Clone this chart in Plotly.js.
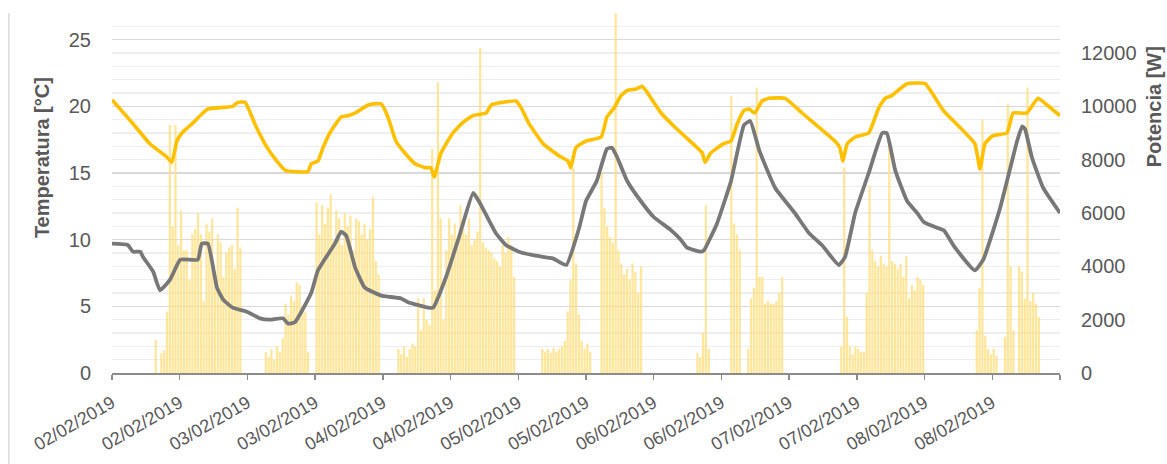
<!DOCTYPE html>
<html>
<head>
<meta charset="utf-8">
<script src="https://cdn.plot.ly/plotly-3.0.1.min.js"></script>
<style>html,body{margin:0;padding:0;background:#fff;}#chart{width:1167px;height:464px;}</style>
</head>
<body>
<div id="chart"></div>
<script>
// ---- Data ----
// Hours since 02/02/2019 00:00 and interior temperature [°C]
const interiorHours = [0,3.7,6.7,9.7,10.6,11.5,12.4,14.2,16.1,17.0,21.4,22.3,23.6,25.4,27.5,29.2,30.7,34.7,35.3,36.5,37.4,38.6,40.6,41.8,43.1,45.4,46.6,47.7,48.9,50.3,51.9,53.7,55.5,56.5,57.1,58.3,60.4,62.2,64.0,66.3,67.2,69.3,71.6,72.5,73.9,76.4,79.2,80.8,81.3,82.2,84.0,86.7,87.7,89.0,90.2,91.3,92.9,93.9,94.6,97.3,100.1,103.7,104.6,105.1,106.1,108.4,109.7,110.8,112.0,112.9,113.9,115.2,116.4,119.3,122.3,128.1,129.0,129.5,130.3,131.7,134.1,135.0,135.9,137.0,138.2,139.6,140.9,144.1,147.3,152.9,153.8,154.7,156.1,158.6,159.7,162.1,164.1,165.7,168];
const interiorTemp = [20.5,18.7,17.2,16.2,15.8,17.4,18.0,18.7,19.5,19.8,20.0,20.3,20.3,18.6,16.9,15.9,15.2,15.1,15.7,15.9,16.9,18.0,19.2,19.3,19.5,20.1,20.2,20.2,19.2,17.4,16.5,15.7,15.4,15.4,14.7,16.5,18.0,18.8,19.3,19.5,20.1,20.3,20.4,19.9,18.7,17.2,16.3,15.9,15.4,16.9,17.4,17.7,19.2,19.9,20.8,21.2,21.3,21.5,21.2,19.5,18.3,16.9,16.5,15.8,16.5,17.2,17.4,18.7,19.7,19.8,19.5,20.4,20.6,20.6,19.5,17.4,16.9,15.9,17.2,17.7,18.0,18.9,19.9,20.6,20.8,21.3,21.7,21.7,19.7,17.2,15.3,17.2,17.8,18.0,19.5,19.5,20.6,20.1,19.3];

// Hours since 02/02/2019 00:00 and exterior temperature [°C]
const exteriorHours = [0,2.8,3.7,5.0,5.5,7.3,8.5,10.3,12.1,15.2,15.9,17.0,18.6,19.7,21.4,23.9,26.2,28.0,30.3,31.2,32.4,35.3,36.5,39.5,40.6,41.5,43.1,44.8,47.7,49.4,51.2,52.5,56.0,56.9,59.2,61.5,64.0,65.0,68.0,69.8,72.1,75.1,78.1,80.5,82.8,84.0,85.9,87.7,88.6,89.5,91.3,93.7,96.0,99.1,100.8,101.9,104.4,104.9,107.2,109.7,112.0,113.1,114.7,117.5,121.0,123.5,125.8,128.8,129.9,131.7,134.1,136.5,137.3,138.8,140.9,142.7,143.9,146.2,147.4,149.4,152.9,154.4,157.4,160.4,161.3,161.8,163.0,165.0,168];
const exteriorTemp = [9.7,9.6,9.1,9.1,8.7,7.6,6.2,7.0,8.5,8.5,9.7,9.7,6.4,5.5,4.9,4.6,4.1,4.0,4.1,3.7,3.8,6.0,7.7,9.7,10.6,10.3,7.9,6.4,5.8,5.7,5.6,5.3,4.9,4.9,7.2,10.2,13.5,12.9,10.5,9.6,9.1,8.8,8.6,8.1,10.9,12.9,14.4,16.8,16.9,16.2,14.4,12.9,11.7,10.7,10.0,9.4,9.1,9.2,11.2,14.4,18.6,18.9,16.7,13.9,12.0,10.5,9.6,8.1,8.7,12.0,15.0,18.0,18.0,15.2,12.9,12.0,11.3,10.9,10.7,9.4,7.7,8.5,12.4,17.4,18.5,18.3,16.2,13.9,12.0];

// Heating power [W], one value per half hour, one array per day
const powerDay1 = [0,0,0,0,0,0,0,0,0,0, 0,0,0,0,0,1240,0,750,860,2300, 9300,5500,9300,4800,6100,4600,4600,3500,5200,5400, 6000,5200,2700,5600,5300,5800,3800,5200,4900,3600, 4500,4700,4800,3900,6200,4700,0,0];
const powerDay2 = [0,0,0,0,0,0,800,600,900,500, 1000,800,1300,2600,2200,2900,2700,3400,3300,2500, 2300,800,0,0,6400,5200,6300,5600,6200,6700, 5000,6100,5800,4800,6000,5500,5900,4600,5800,5700, 5200,5600,5000,5400,6600,4200,3700,0];
const powerDay3 = [0,0,0,0,0,900,700,1000,600,900, 1100,1000,2800,1600,2800,2000,1800,8400,3100,10900, 5800,2000,4600,5800,5200,5600,5000,6300,5400,5200, 5800,4800,5000,5300,12200,4900,4700,4600,4500,4300, 4200,4000,4800,4500,5100,4800,3600,0];
const powerDay4 = [0,0,0,0,0,0,0,0,900,800, 900,750,950,800,900,1000,1200,2300,3500,7700, 4100,2200,1200,900,1100,800,0,0,0,7500, 6200,5500,5100,4900,13500,4600,4100,3700,3900,3500, 4100,3800,3000,4000,0,0,0,0];
const powerDay5 = [0,0,0,0,0,0,0,0,0,0, 0,0,0,0,0,750,600,1500,6300,900, 0,0,0,0,0,0,0,10400,5600,5200, 4600,0,0,900,2800,3200,10700,3600,3600,2600, 2700,2600,2600,2700,3000,3600,0,0];
const powerDay6 = [0,0,0,0,0,0,0,0,0,0, 0,0,0,0,0,0,0,0,1000,7700, 2100,1000,700,1000,900,800,800,3000,7000,4600, 4200,4000,4400,4100,4000,8600,4200,4100,3900,4100, 3600,4400,2800,3300,3100,3600,3500,3300];
const powerDay7 = [0,0,0,0,0,0,0,0,0,0, 0,0,0,0,0,0,0,0,1600,3200, 9500,1400,900,700,900,650,0,0,1350,10100, 4000,1600,0,4000,3800,2800,10700,2700,3000,2600, 2100,0,0,0,0,0,0,0];

// Axis ticks
const tickHours = [0,12,24,36,48,60,72,84,96,108,120,132,144,156,168];
const tickLabels = ["02/02/2019","02/02/2019","03/02/2019","03/02/2019","04/02/2019","04/02/2019","05/02/2019","05/02/2019","06/02/2019","06/02/2019","07/02/2019","07/02/2019","08/02/2019","08/02/2019",""];
const tempTicks = [0,5,10,15,20,25];
const powerTicks = [0,2000,4000,6000,8000,10000,12000];
const powerTickLabels = ["0","2000","4000","6000","8000","10000","12000"];

// ---- Helpers ----
const START = Date.UTC(2019, 1, 2, 0, 0, 0);
function stamp(h) {
  return new Date(START + h * 3600000).toISOString().slice(0, 19).replace('T', ' ');
}

const powerAll = [].concat(powerDay1, powerDay2, powerDay3, powerDay4, powerDay5, powerDay6, powerDay7);
const powerX = powerAll.map((_, i) => stamp(i * 0.5 + 0.25));

const FONT = 'Liberation Sans, Arial, sans-serif';
const TXT = '#595959';
const TICKSIZE = 20;

const traces = [
  {
    type: 'bar', name: 'Potencia', x: powerX, y: powerAll, yaxis: 'y',
    marker: {color: 'rgba(255,222,120,0.75)', line: {width: 0}},
    hoverinfo: 'x+y'
  },
  {
    type: 'scatter', mode: 'lines', name: 'Temperatura interior',
    x: interiorHours.map(stamp), y: interiorTemp, yaxis: 'y2',
    line: {color: '#FFC000', width: 3.6, shape: 'spline', smoothing: 0.4}
  },
  {
    type: 'scatter', mode: 'lines', name: 'Temperatura exterior',
    x: exteriorHours.map(stamp), y: exteriorTemp, yaxis: 'y2',
    line: {color: '#787878', width: 3.8, shape: 'spline', smoothing: 0.4}
  }
];

const layout = {
  width: 1167, height: 464,
  margin: {l: 112, r: 107, t: 13, b: 91, pad: 0},
  paper_bgcolor: '#ffffff', plot_bgcolor: '#ffffff',
  font: {family: FONT, size: TICKSIZE, color: TXT},
  showlegend: false,
  bargap: 0.2,
  xaxis: {
    type: 'date',
    range: [stamp(0), stamp(168)],
    tickmode: 'array',
    tickvals: tickHours.map(stamp),
    ticktext: tickLabels,
    tickangle: -30,
    ticks: 'outside', ticklen: 5, tickcolor: '#8C8C8C', tickwidth: 1.5,
    showline: true, linecolor: '#8C8C8C', linewidth: 1.5,
    showgrid: false, zeroline: false,
    tickfont: {family: FONT, size: 18, color: TXT},
    ticklabelstandoff: 6
  },
  yaxis: {
    side: 'right',
    range: [0, 13500],
    tickmode: 'array', tickvals: powerTicks, ticktext: powerTickLabels,
    showgrid: false, zeroline: false, showline: false,
    ticks: '',
    tickfont: {family: FONT, size: TICKSIZE, color: TXT},
    ticklabelstandoff: 20
  },
  yaxis2: {
    overlaying: 'y', side: 'left',
    range: [0, 27],
    tickmode: 'array', tickvals: tempTicks,
    showgrid: true, gridcolor: '#D9D9D9', gridwidth: 1.6,
    minor: {dtick: 1, showgrid: true, gridcolor: '#EEEEEE', gridwidth: 1.3},
    zeroline: false, showline: false, ticks: '',
    tickfont: {family: FONT, size: TICKSIZE, color: TXT},
    ticklabelstandoff: 20
  },
  shapes: [
    {type: 'line', xref: 'paper', yref: 'paper',
     x0: -0.1087, x1: -0.1087, y0: -0.26, y1: 1.0,
     line: {color: '#D9D9D9', width: 1.5}}
  ],
  annotations: [
    {text: 'Temperatura [°C]', xref: 'paper', yref: 'paper',
     x: -0.0738, y: 0.597, xanchor: 'center', yanchor: 'middle',
     textangle: -90, showarrow: false,
     font: {family: FONT, size: 20, color: TXT, weight: 'bold'}},
    {text: 'Potencia [W]', xref: 'paper', yref: 'paper',
     x: 1.0995, y: 0.739, xanchor: 'center', yanchor: 'middle',
     textangle: -90, showarrow: false,
     font: {family: FONT, size: 20, color: TXT, weight: 'bold'}}
  ]
};

Plotly.newPlot('chart', traces, layout, {staticPlot: true, displayModeBar: false});
</script>
</body>
</html>
